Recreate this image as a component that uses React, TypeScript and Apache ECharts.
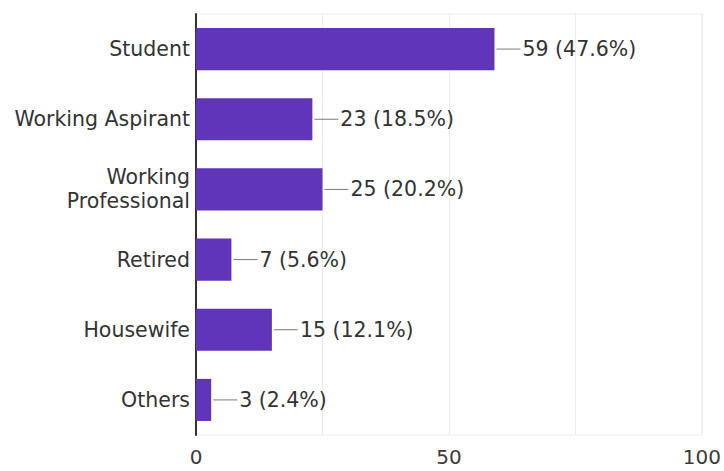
import React, { useEffect, useRef } from "react";
import * as echarts from "echarts";

const categories = ["Student", "Working Aspirant", "Working Professional", "Retired", "Housewife", "Others"];
const counts = [59, 23, 25, 7, 15, 3];
const percents = ["47.6%", "18.5%", "20.2%", "5.6%", "12.1%", "2.4%"];
const xTicks = [0, 50, 100];

export default function App() {
  const ref = useRef<HTMLDivElement>(null);
  useEffect(() => {
    const chart = echarts.init(ref.current!, null, { renderer: "svg" });
    const font = "'DejaVu Sans', sans-serif";
    chart.setOption({
      animation: false,
      grid: { left: 196, right: 22, top: 14, bottom: 36, show: true, borderColor: "#ededed", borderWidth: 1 },
      xAxis: {
        type: "value",
        min: 0,
        max: 100,
        interval: 25,
        axisLine: { show: false },
        axisTick: { show: false },
        splitLine: { lineStyle: { color: "#ededed", width: 1 } },
        axisLabel: {
          color: "#3a3a3a",
          fontFamily: font,
          fontSize: 20,
          margin: 12,
          formatter: (v: number) => (xTicks.includes(v) ? String(v) : ""),
        },
      },
      yAxis: {
        type: "category",
        data: categories,
        inverse: true,
        axisLine: { show: true, lineStyle: { color: "#333", width: 2 } },
        axisTick: { show: false },
        axisLabel: {
          color: "#333",
          fontFamily: font,
          fontSize: 20.5,
          lineHeight: 24,
          margin: 6,
          formatter: (v: string) => (v === "Working Professional" ? "Working\nProfessional" : v),
        },
      },
      series: [
        {
          type: "bar",
          data: counts,
          barCategoryGap: "40%",
          itemStyle: { color: "#6035b8" },
          label: {
            show: true,
            position: "right",
            distance: 2,
            formatter: (p: any) => `{l|}{t|${p.value} (${percents[p.dataIndex]})}`,
            rich: {
              l: { width: 24, height: 1, backgroundColor: "#7a7a7a" },
              t: { color: "#333", fontFamily: font, fontSize: 20.5, padding: [0, 0, 0, 2] },
            },
          },
        },
      ],
    });
    return () => chart.dispose();
  }, []);
  return <div ref={ref} style={{ width: 724, height: 471, position: "absolute", left: 0, top: 0 }} />;
}
